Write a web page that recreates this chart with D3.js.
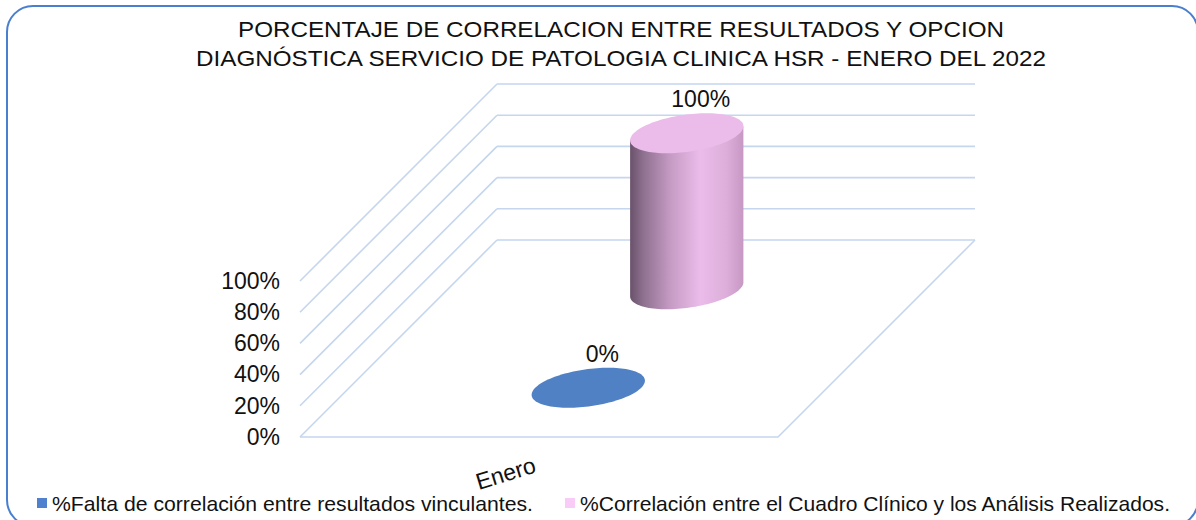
<!DOCTYPE html>
<html><head><meta charset="utf-8">
<script src="https://cdn.jsdelivr.net/npm/d3@7"></script>
<style>
html,body{margin:0;padding:0;background:#fff;}
svg{display:block;font-family:"Liberation Sans",Arial,sans-serif;}
</style></head>
<body>
<svg id="c" width="1196" height="520"></svg>
<script>
// ---- data ----
const categories = ["Enero"];
const seriesNames = [
  "%Falta de correlación entre resultados vinculantes.",
  "%Correlación entre el Cuadro Clínico y los Análisis Realizados."
];
const faltaValues = [0];
const correlacionValues = [1];
const yTicks = [0, 0.2, 0.4, 0.6, 0.8, 1];
const titleLines = [
  "PORCENTAJE DE CORRELACION ENTRE RESULTADOS Y OPCION",
  "DIAGNÓSTICA SERVICIO DE PATOLOGIA CLINICA HSR - ENERO DEL 2022"
];
const seriesColors = ["#4f81c4", "#f6c8f3"];

const svg = d3.select("#c");
const defs = svg.append("defs");
const FONT = "Liberation Sans, Arial, sans-serif";

// frame
svg.append("rect").attr("x", 7).attr("y", 6).attr("width", 1191).attr("height", 520)
  .attr("rx", 26).attr("fill", "none").attr("stroke", "#4a7fd0").attr("stroke-width", 2);

// title
const titleLen = [766, 850];
svg.append("g").selectAll("text").data(titleLines).join("text")
  .attr("x", 621).attr("y", (d, i) => 37 + i * 28.5)
  .attr("text-anchor", "middle").attr("font-size", 22).attr("fill", "#111")
  .attr("textLength", (d, i) => titleLen[i]).attr("lengthAdjust", "spacingAndGlyphs")
  .text(d => d);

// ---- 3D projection built from scales ----
const depth = 197;
const x = d3.scaleBand().domain(categories).range([497, 975]);
const z = d3.scaleBand().domain([seriesNames[1], seriesNames[0]]).range([0, depth]);
const y = d3.scaleLinear().domain([0, 1]).range([240, 84]);
const proj = (xv, zv, v) => [xv - zv, y(v) + zv];

const grid = svg.append("g").attr("stroke", "#c5d6ef").attr("stroke-width", 1.6).attr("fill", "none");
const x0 = x.range()[0], x1 = x.range()[1];
yTicks.forEach(v => {
  const a = proj(x0, 0, v), b = proj(x1, 0, v), c = proj(x0, depth, v);
  grid.append("line").attr("x1", a[0]).attr("y1", a[1]).attr("x2", b[0]).attr("y2", b[1]);
  grid.append("line").attr("x1", a[0]).attr("y1", a[1]).attr("x2", c[0]).attr("y2", c[1]);
});
// floor
{
  const p = [proj(x1, 0, 0), proj(x1, depth, 0), proj(x0, depth, 0)];
  grid.append("polyline").attr("points", p.map(d => d.join(",")).join(" "));
}

// y axis on front plane
const yFront = d3.scaleLinear().domain([0, 1]).range([240 + depth, 84 + depth]);
const ax = svg.append("g").attr("transform", "translate(283,0)")
  .call(d3.axisLeft(yFront).tickValues(yTicks).tickFormat(d3.format(".0%")).tickSize(0).tickPadding(3));
ax.select(".domain").remove();
ax.selectAll("text").attr("font-size", 23).attr("fill", "#111").attr("font-family", FONT);

// ellipse / cylinder helpers
const ra = 53, rb = 20;
function ellipsePts(cx, cz, v, t0, t1, n) {
  const pts = [];
  for (let i = 0; i <= n; i++) {
    const t = t0 + (t1 - t0) * i / n;
    pts.push(proj(cx + ra * Math.cos(t), cz + rb * Math.sin(t), v));
  }
  return pts;
}
const line = d3.line();

// gradient for cylinder body
const g1 = defs.append("linearGradient").attr("id", "cylBody").attr("x1", 0).attr("x2", 1).attr("y1", 0).attr("y2", 0);
[[0, "#6a526b"], [0.12, "#8f7190"], [0.35, "#c49ac3"], [0.62, "#ebbcea"], [0.85, "#dcaed9"], [1, "#c798c4"]]
  .forEach(s => g1.append("stop").attr("offset", s[0]).attr("stop-color", s[1]));

const cx = x("Enero") + x.bandwidth() / 2;
const seriesData = [
  {name: seriesNames[0], value: faltaValues[0], color: seriesColors[0]},
  {name: seriesNames[1], value: correlacionValues[0], color: seriesColors[1]}
];
const tExt = Math.atan2(-rb, ra);
[seriesData[1], seriesData[0]].forEach(s => {
  const cz = z(s.name) + z.bandwidth() / 2;
  const v = s.value;
  if (v > 0) {
    const arc = ellipsePts(cx, cz, 0, Math.PI + tExt, tExt, 60);
    const topL = proj(cx + ra * Math.cos(Math.PI + tExt), cz + rb * Math.sin(Math.PI + tExt), v);
    const topR = proj(cx + ra * Math.cos(tExt), cz + rb * Math.sin(tExt), v);
    const bodyPts = [topL].concat(arc).concat([topR]);
    svg.append("path").attr("d", line(bodyPts) + "Z").attr("fill", "url(#cylBody)");
    svg.append("path").attr("d", line(ellipsePts(cx, cz, v, 0, 2 * Math.PI, 120)) + "Z")
      .attr("fill", "#ebbbe9");
  } else {
    svg.append("path").attr("d", line(ellipsePts(cx, cz, 0, 0, 2 * Math.PI, 120)) + "Z")
      .attr("fill", s.color);
  }
  const top = proj(cx, cz, v);
  svg.append("text").attr("x", top[0] + 14).attr("y", top[1] - 26)
    .attr("text-anchor", "middle").attr("font-size", 23).attr("fill", "#111")
    .text(d3.format(".0%")(v));
});

// category label
{
  const p = proj(cx, depth, 0);
  svg.append("text").attr("transform", `translate(${p[0] - 31},${p[1] + 44}) rotate(-17)`)
    .attr("text-anchor", "middle").attr("font-size", 23).attr("fill", "#111").text("Enero");
}

// legend
const legX = [37, 565];
const legLen = [481, 590];
const leg = svg.append("g").selectAll("g").data(seriesData).join("g")
  .attr("transform", (d, i) => `translate(${legX[i]},0)`);
leg.append("rect").attr("x", 0).attr("y", 498).attr("width", 10).attr("height", 10).attr("fill", (d, i) => i === 0 ? "#4f81cf" : "#f8ccf6");
leg.append("text").attr("x", 15).attr("y", 511).attr("font-size", 21).attr("fill", "#111")
  .attr("textLength", (d, i) => legLen[i]).attr("lengthAdjust", "spacingAndGlyphs")
  .text(d => d.name);
</script>
</body></html>
